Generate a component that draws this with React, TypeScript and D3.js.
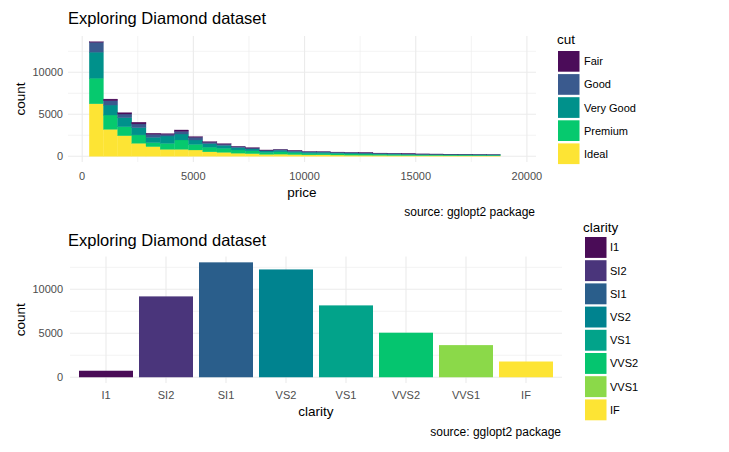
import * as d3 from "d3";

// ---- data ----
const cuts = ["Fair", "Good", "Very Good", "Premium", "Ideal"];
const cutColors = ["#4b0c59", "#3a5a8e", "#00918b", "#06c96e", "#fde434"];

// 30 price bins, binwidth ~637.8, first bin starts at 318.9
const binOrigin = 318.9;
const binWidth = 637.76;
const fair = [60, 200, 160, 200, 120, 80, 160, 80, 70, 60, 50, 45, 35, 35, 30, 25, 25, 20, 20, 18, 15, 14, 12, 12, 11, 10, 10, 9, 8, 0];
const good = [1180, 510, 440, 440, 360, 200, 320, 320, 180, 150, 120, 100, 75, 80, 65, 60, 55, 50, 45, 40, 38, 33, 30, 28, 26, 25, 24, 22, 20, 0];
const veryGood = [3100, 1190, 1070, 870, 630, 870, 710, 520, 400, 340, 270, 230, 170, 190, 150, 130, 125, 110, 100, 95, 85, 75, 70, 65, 62, 58, 56, 50, 46, 0];
const premium = [3050, 1700, 1070, 990, 480, 710, 1110, 670, 560, 480, 380, 330, 240, 270, 220, 190, 185, 170, 150, 145, 130, 115, 105, 100, 95, 90, 85, 80, 72, 0];
const ideal = [6250, 3210, 2450, 1550, 1150, 830, 830, 750, 530, 470, 370, 315, 230, 255, 205, 165, 170, 150, 135, 122, 112, 93, 83, 75, 76, 67, 65, 59, 54, 0];

const priceTicks = [0, 5000, 10000, 15000, 20000];
const priceMinor = [2500, 7500, 12500, 17500];
const countTicks = [0, 5000, 10000];
const countMinor = [2500, 7500, 12500];

const clarity = ["I1", "SI2", "SI1", "VS2", "VS1", "VVS2", "VVS1", "IF"];
const clarityCounts = [741, 9194, 13065, 12258, 8171, 5066, 3655, 1790];
const clarityColors = ["#4a0c57", "#4a357b", "#2a5e8b", "#00838f", "#02a38a", "#05c56f", "#8bd949", "#fde434"];

const FONT = "'Liberation Sans', Arial, Helvetica, sans-serif";
const GRID = "#ebebeb";
const TICK = "#4d4d4d";

export default function App() {
  // ---------- top: stacked histogram ----------
  const series = [fair, good, veryGood, premium, ideal];
  const bins = fair.map((_, i) => {
    const row: any = { x0: binOrigin + i * binWidth, x1: binOrigin + (i + 1) * binWidth };
    cuts.forEach((c, k) => (row[c] = series[k][i]));
    return row;
  });
  // ggplot stacks the first level on top, so stack in reverse order
  const stack = d3.stack<any>().keys([...cuts].reverse());
  const stacked = stack(bins);
  const maxTotal = d3.max(bins, (b) => d3.sum(cuts, (c) => b[c])) as number;

  const xLo = binOrigin;
  const xHi = binOrigin + bins.length * binWidth;
  const xPad = (xHi - xLo) * 0.05;
  const x1 = d3.scaleLinear().domain([xLo - xPad, xHi + xPad]).range([68, 536]);
  const y1 = d3.scaleLinear().domain([-maxTotal * 0.05, maxTotal * 1.05]).range([162, 36]);

  // ---------- bottom: bar chart ----------
  const x2 = d3.scaleLinear().domain([0.4, clarity.length + 0.6]).range([70, 562]);
  const maxCount = d3.max(clarityCounts) as number;
  const y2 = d3.scaleLinear().domain([-maxCount * 0.05, maxCount * 1.05]).range([383, 256.6]);

  return (
    <svg width={729} height={452} style={{ position: "absolute", left: 0, top: 0, fontFamily: FONT }}>
      <rect width={729} height={452} fill="#fff" />

      {/* ===== top panel ===== */}
      <text x={68} y={24} fontSize={16.5} fill="#000">Exploring Diamond dataset</text>
      <g>
        {priceMinor.map((t) => (
          <line key={"pm" + t} x1={x1(t)} x2={x1(t)} y1={36} y2={162} stroke={GRID} strokeWidth={0.6} />
        ))}
        {countMinor.map((t) => (
          <line key={"cm" + t} x1={68} x2={536} y1={y1(t)} y2={y1(t)} stroke={GRID} strokeWidth={0.6} />
        ))}
        {priceTicks.map((t) => (
          <line key={"p" + t} x1={x1(t)} x2={x1(t)} y1={36} y2={162} stroke={GRID} strokeWidth={1.1} />
        ))}
        {countTicks.map((t) => (
          <line key={"c" + t} x1={68} x2={536} y1={y1(t)} y2={y1(t)} stroke={GRID} strokeWidth={1.1} />
        ))}
      </g>
      <g>
        {stacked.map((s) => {
          const color = cutColors[cuts.indexOf(s.key)];
          return s.map((d, i) =>
            d[1] - d[0] > 0 ? (
              <rect
                key={s.key + i}
                x={x1(bins[i].x0)}
                width={x1(bins[i].x1) - x1(bins[i].x0)}
                y={y1(d[1])}
                height={y1(d[0]) - y1(d[1])}
                fill={color}
                stroke={color}
                strokeWidth={0.3}
              />
            ) : null
          );
        })}
      </g>
      {countTicks.map((t) => (
        <text key={"yl" + t} x={63} y={y1(t)} dy="0.35em" textAnchor="end" fontSize={11} fill={TICK}>{t}</text>
      ))}
      {priceTicks.map((t) => (
        <text key={"xl" + t} x={x1(t)} y={176} dy="0.35em" textAnchor="middle" fontSize={11} fill={TICK}>{t}</text>
      ))}
      <text x={302} y={192} dy="0.35em" textAnchor="middle" fontSize={13.5} fill="#000">price</text>
      <text transform={`translate(20,${y1(maxTotal / 2)}) rotate(-90)`} dy="0.35em" textAnchor="middle" fontSize={13.5} fill="#000">count</text>
      <text x={535} y={212} dy="0.35em" textAnchor="end" fontSize={12} fill="#000">source: gglopt2 package</text>

      {/* legend: cut */}
      <text x={557} y={39} dy="0.35em" fontSize={13.5} fill="#000">cut</text>
      {cuts.map((c, i) => (
        <g key={c} transform={`translate(558,${51 + i * 23.1})`}>
          <rect width={21.5} height={20.7} fill={cutColors[i]} />
          <text x={26} y={10.5} dy="0.35em" fontSize={11} fill="#000">{c}</text>
        </g>
      ))}

      {/* ===== bottom panel ===== */}
      <text x={68} y={246} fontSize={16.5} fill="#000">Exploring Diamond dataset</text>
      <g>
        {countMinor.map((t) => (
          <line key={"bm" + t} x1={70} x2={562} y1={y2(t)} y2={y2(t)} stroke={GRID} strokeWidth={0.6} />
        ))}
        {countTicks.map((t) => (
          <line key={"bc" + t} x1={70} x2={562} y1={y2(t)} y2={y2(t)} stroke={GRID} strokeWidth={1.1} />
        ))}
        {clarity.map((c, i) => (
          <line key={"bv" + c} x1={x2(i + 1)} x2={x2(i + 1)} y1={256.6} y2={383} stroke={GRID} strokeWidth={1.1} />
        ))}
      </g>
      {clarity.map((c, i) => (
        <rect
          key={"bar" + c}
          x={x2(i + 1 - 0.45)}
          width={x2(i + 1 + 0.45) - x2(i + 1 - 0.45)}
          y={y2(clarityCounts[i])}
          height={y2(0) - y2(clarityCounts[i])}
          fill={clarityColors[i]}
        />
      ))}
      {countTicks.map((t) => (
        <text key={"byl" + t} x={63} y={y2(t)} dy="0.35em" textAnchor="end" fontSize={11} fill={TICK}>{t}</text>
      ))}
      {clarity.map((c, i) => (
        <text key={"bxl" + c} x={x2(i + 1)} y={395} dy="0.35em" textAnchor="middle" fontSize={11} fill={TICK}>{c}</text>
      ))}
      <text x={316} y={411} dy="0.35em" textAnchor="middle" fontSize={13.5} fill="#000">clarity</text>
      <text transform={`translate(20,${y2(maxCount / 2)}) rotate(-90)`} dy="0.35em" textAnchor="middle" fontSize={13.5} fill="#000">count</text>
      <text x={561} y={432} dy="0.35em" textAnchor="end" fontSize={12} fill="#000">source: gglopt2 package</text>

      {/* legend: clarity */}
      <text x={583} y={227} dy="0.35em" fontSize={13.5} fill="#000">clarity</text>
      {clarity.map((c, i) => (
        <g key={"lg" + c} transform={`translate(585,${237 + i * 23.2})`}>
          <rect width={21.5} height={20.9} fill={clarityColors[i]} />
          <text x={25} y={10.5} dy="0.35em" fontSize={11} fill="#000">{c}</text>
        </g>
      ))}
    </svg>
  );
}
